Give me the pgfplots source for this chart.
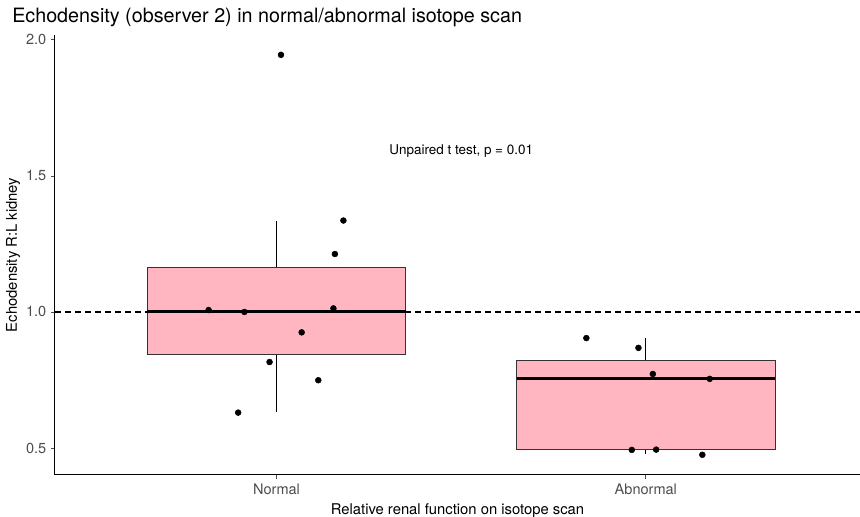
\documentclass[border=0pt]{standalone}
\usepackage{pgfplots}
\pgfplotsset{compat=1.18}
\usepgfplotslibrary{statistics}
\usepackage{fontspec}
\setmainfont{TeX Gyre Heros}
\definecolor{boxfill}{HTML}{FFB6C1}
\definecolor{tickcol}{HTML}{4D4D4D}
\definecolor{boxline}{HTML}{333333}
\begin{document}
\begin{tikzpicture}[x=1pt,y=1pt]
\path[use as bounding box] (0,0) rectangle (645,387.75);
\begin{axis}[
  at={(41.25pt,31.5pt)}, anchor=south west,
  scale only axis, width=603.75pt, height=330pt,
  xmin=0.4, xmax=2.58, ymin=0.4007, ymax=2.018,
  axis x line*=bottom, axis y line*=left,
  xtick={1,2}, xticklabels={Normal,Abnormal},
  ytick={0.5,1,1.5,2}, yticklabels={0.5,1.0,1.5,2.0},
  tick align=outside, major tick length=3pt,
  tick style={tickcol, line width=0.6pt},
  axis line style={black, line width=0.75pt},
  ticklabel style={font=\fontsize{10.9}{12}\selectfont, text=tickcol},
  /pgf/number format/assume math mode=true,
  xlabel={Relative renal function on isotope scan},
  ylabel={Echodensity R:L kidney},
  label style={font=\fontsize{11.1}{13}\selectfont},
  ylabel style={at={(axis description cs:-0.052,0.5)}, anchor=center},
  boxplot/draw direction=y,
  boxplot/every median/.style={black, line width=2.2pt},
  boxplot/every whisker/.style={black, line width=0.75pt},
]
\addplot[boxplot prepared={draw position=1, lower whisker=0.631, lower quartile=0.844, median=1.003, upper quartile=1.163, upper whisker=1.335, box extend=0.7, whisker extend=0}, draw=boxline, fill=boxfill, line width=0.75pt] coordinates {};
\addplot[boxplot prepared={draw position=2, lower whisker=0.477, lower quartile=0.493, median=0.754, upper quartile=0.821, upper whisker=0.903, box extend=0.7, whisker extend=0}, draw=boxline, fill=boxfill, line width=0.75pt] coordinates {};
\addplot[black, line width=0.9pt, dash pattern=on 4.5pt off 3pt] coordinates {(0.4,1) (2.58,1)};
\addplot[only marks, mark=*, mark size=2.2pt, black] table {
x y
1.012 1.945
1.181 1.336
1.158 1.213
0.816 1.007
0.913 1.000
1.154 1.013
1.068 0.925
0.981 0.816
1.113 0.749
0.896 0.630
1.839 0.904
1.980 0.868
2.019 0.772
2.173 0.754
1.962 0.493
2.028 0.494
2.153 0.475
};
\node[font=\fontsize{10.1}{12}\selectfont] at (axis cs:1.5,1.593) {Unpaired t test, p = 0.01};
\end{axis}
\node[anchor=west, font=\fontsize{14.8}{17}\selectfont, inner sep=0pt] at (9,375) {Echodensity (observer 2) in normal/abnormal isotope scan};
\end{tikzpicture}
\end{document}
